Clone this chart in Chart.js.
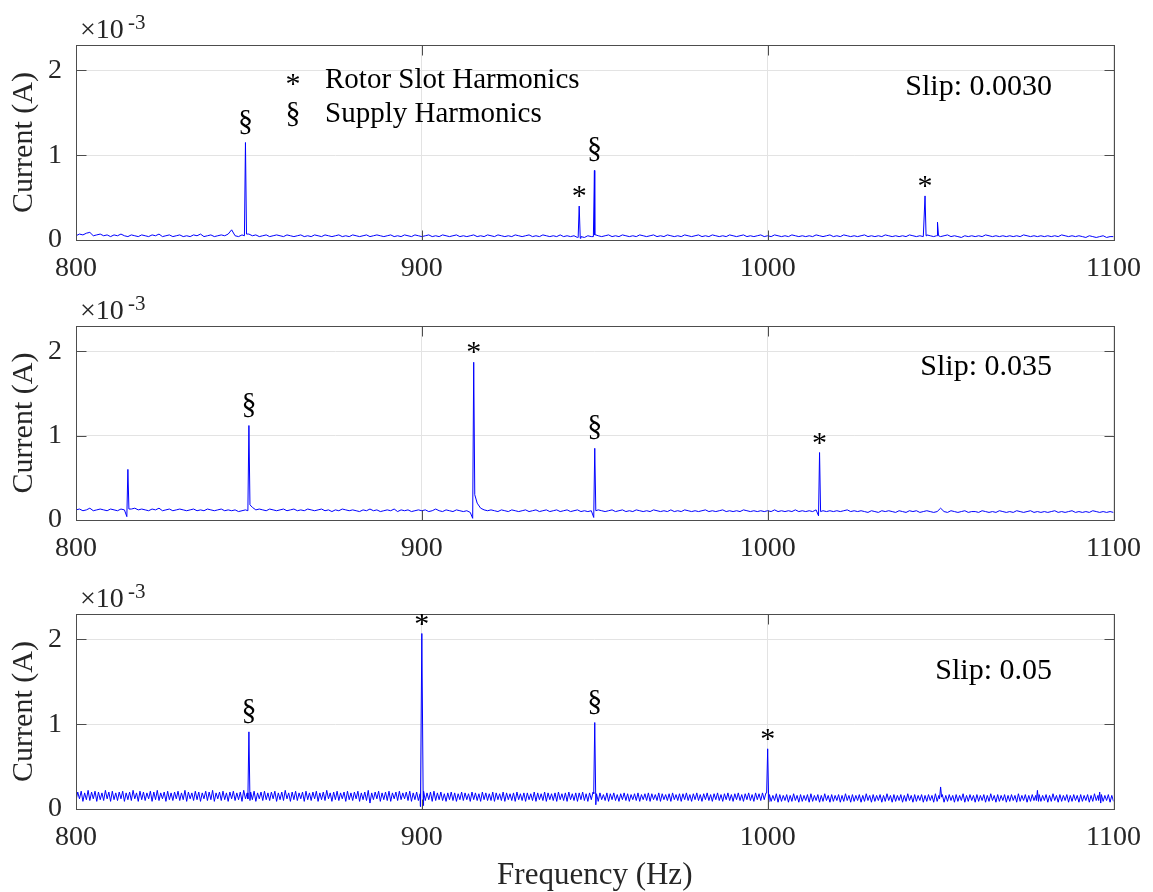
<!DOCTYPE html>
<html>
<head>
<meta charset="utf-8">
<script src="https://cdn.jsdelivr.net/npm/chart.js@4.4.0/dist/chart.umd.min.js"></script>
<style>
  html, body { margin: 0; padding: 0; background: #fff; }
  #wrap { position: relative; width: 1153px; height: 892px; }
  canvas { position: absolute; left: 0; }
</style>
</head>
<body>
<div id="wrap">
  <canvas id="p1" width="1153" height="290" style="top:0px"></canvas>
  <canvas id="p2" width="1153" height="290" style="top:290px"></canvas>
  <canvas id="p3" width="1153" height="312" style="top:580px"></canvas>
</div>
<script>
// --- data (all current values in units of 1e-5 A, axis is in 1e-3 A) ---
const FREQ_START = 800;   // Hz, first sample of each noise floor
const X_TICKS = [800, 900, 1000, 1100];
const Y_TICKS = [0, 1, 2];

// Slip 0.0030 (floor sampled every 1 Hz)
const floor1 = [
  5,7,6,8,9,5,6,7,5,6,  4,6,5,7,5,4,6,5,4,6,  5,4,6,5,7,4,5,6,4,5,  6,4,5,4,6,5,7,4,5,6,
  4,5,6,5,7,12,5,4,6,5, 7,5,6,4,5,6,4,5,6,5,  4,6,5,4,5,6,4,5,4,6,  5,4,6,5,4,5,6,4,5,4,
  6,5,4,5,6,4,5,6,5,4,  5,6,4,5,4,6,5,4,6,5,  4,5,6,4,5,4,6,5,4,5,  6,4,5,4,5,6,4,5,4,6,
  5,4,6,5,4,5,4,6,5,4,  5,6,4,5,4,6,5,4,5,4,  6,4,5,4,5,3,4,3,5,4,  6,5,4,5,6,4,5,4,6,5,
  4,5,4,6,5,4,5,6,4,5,  4,6,5,4,5,4,6,5,4,5,  6,4,5,4,6,5,4,5,4,6,  5,4,5,6,4,5,4,5,6,4,
  5,4,6,5,4,5,4,6,5,4,  5,4,5,4,6,5,4,5,6,4,  5,4,6,5,4,5,4,5,6,4,  5,4,5,4,6,5,4,5,4,5,
  4,6,5,4,5,4,6,5,4,5,  4,5,6,4,5,4,3,5,4,5,  4,5,4,6,5,4,5,4,5,4,  5,4,5,4,6,5,4,5,4,5,
  4,5,4,5,4,6,5,4,5,4,  5,4,3,5,4,3,4,5,3,4,  4
];
const peaks1 = [
  [848.7, 5], [849, 115], [849.3, 7],
  [945.2, 3], [945.5, 40], [945.8, 2],
  [949.6, 4], [949.9, 82], [950.3, 6],
  [1045.2, 4], [1045.5, 52], [1045.8, 5],
  [1048.8, 5], [1049.1, 21], [1049.4, 5]
];
const marks1 = [[849, 115, '§'], [945.5, 40, '*'], [949.9, 82, '§'], [1045.5, 52, '*']];

// Slip 0.035 (floor sampled every 1 Hz)
const floor2 = [
  12,13,11,12,14,11,12,13,12,11,  13,12,11,13,12,9,13,14,12,13,  12,11,13,12,14,11,12,13,11,12,
  13,12,11,12,13,11,12,11,13,12,  11,12,13,11,12,11,12,10,11,12,  14,15,12,13,12,11,13,12,11,12,
  13,11,12,13,11,12,11,13,12,11,  12,13,11,12,10,12,11,13,12,11,  12,11,10,12,11,13,11,12,10,11,
  12,11,13,10,12,11,12,10,11,12,  11,12,10,11,13,11,10,12,11,10,  12,11,10,11,9,3,20,14,12,11,
  12,11,10,12,11,10,12,11,10,11,  12,10,11,12,10,11,12,10,11,12,  10,11,12,10,11,12,10,11,10,11,
  4,12,11,10,11,12,10,11,12,10,   11,10,12,11,10,11,10,12,11,10,  11,10,12,10,11,10,12,11,10,11,
  10,11,12,10,11,10,11,12,10,11,  10,11,10,12,11,10,11,10,11,10,  11,10,12,10,11,10,11,10,12,10,
  11,10,11,10,12,6,11,10,11,10,   11,10,11,12,10,11,10,11,10,9,   11,10,9,11,10,11,10,9,11,10,
  9,11,10,11,9,10,11,10,9,10,     14,10,9,11,10,9,10,11,9,10,     10,9,11,10,9,10,9,11,10,9,
  10,9,11,10,9,10,11,9,10,9,      10,9,10,11,9,10,9,10,11,9,      10,9,10,9,11,10,9,10,9,10,
  9
];
const peaks2 = [
  [814.7, 4], [815, 60], [815.3, 13],
  [849.7, 11], [850, 112], [850.3, 18],
  [914.7, 2], [915, 187], [915.3, 30],
  [949.7, 3], [950, 85], [950.3, 11],
  [1014.7, 5], [1015, 80], [1015.3, 10]
];
const marks2 = [[850, 112, '§'], [915, 187, '*'], [950, 85, '§'], [1015, 80, '*']];

// Slip 0.05 (floor sampled every 0.5 Hz, one row = 5 Hz)
const floor3 = [
  10,20,12,21,9,19,11,22,10,20,  12,21,9,20,11,19,10,22,12,20,
  9,21,11,19,10,20,12,21,9,19,   11,20,10,22,12,19,9,21,11,20,
  10,19,12,21,9,20,11,22,10,19,  12,20,9,21,11,19,10,20,12,21,
  10,19,11,22,9,20,12,19,10,21,  11,20,9,19,12,21,10,20,11,22,
  9,19,12,20,10,21,11,19,9,20,   12,21,10,19,11,20,9,22,12,19,
  10,20,11,21,9,19,12,20,10,21,  11,19,10,20,12,21,9,19,11,20,
  10,22,12,19,9,20,11,21,10,19,  12,20,9,21,11,19,10,20,12,21,
  9,19,11,20,10,22,12,19,9,20,   11,21,10,19,12,20,9,21,11,19,
  10,20,12,21,9,19,11,20,10,22,  7,19,11,20,12,21,9,19,11,20,
  10,21,9,19,12,20,10,21,11,19,  12,20,10,21,9,19,11,20,10,18,
  12,21,10,19,11,20,9,21,10,19,  11,20,10,18,9,19,11,20,10,19,
  9,18,11,20,10,19,11,18,9,20,   11,19,10,18,9,20,11,19,10,18,
  10,20,9,19,11,18,10,20,9,19,   11,18,10,19,9,20,11,18,10,19,
  9,19,11,18,10,20,9,19,11,18,   10,20,9,19,11,18,10,19,9,20,
  11,18,10,19,9,20,11,18,10,19,  9,19,11,20,10,18,9,19,11,20,
  10,18,9,19,11,17,10,19,9,18,   11,19,10,17,9,18,11,19,10,18,
  9,17,11,18,10,19,9,17,11,18,   10,19,9,18,11,17,10,19,9,18,
  11,17,10,18,9,19,11,17,10,18,  9,18,11,19,10,17,9,18,11,19,
  10,17,9,18,11,19,10,17,9,18,   11,19,10,17,9,18,11,19,10,17,
  9,18,11,19,10,17,9,18,11,19,   10,17,9,19,11,18,10,19,11,19,
  8,17,9,16,10,18,8,17,9,16,     10,17,8,16,9,18,10,16,8,17,
  9,16,10,17,8,18,9,16,10,17,    8,16,9,18,10,16,8,17,9,16,
  10,17,8,16,9,18,10,16,8,17,    9,16,10,17,8,16,9,18,10,16,
  8,17,9,16,10,17,8,16,9,18,     10,16,8,17,9,16,10,17,8,16,
  9,18,10,16,8,17,9,16,10,17,    8,16,9,17,10,16,8,18,9,16,
  10,17,8,16,9,17,10,16,8,17,    9,16,10,18,8,16,9,17,10,16,
  8,17,9,16,10,17,8,16,9,18,     10,16,8,17,9,16,10,17,8,16,
  9,17,10,16,8,18,9,16,10,17,    8,16,9,17,10,16,8,17,9,16,
  10,17,8,16,9,18,10,16,8,17,    9,16,10,17,8,16,9,17,10,16,
  8,17,9,16,10,17,8,16,9,18,     10,16,8,17,9,16,10,17,8,16,
  9
];
const peaks3 = [
  [849.7, 12], [850, 91], [850.3, 10],
  [899.6, 3], [900, 207], [900.4, 4],
  [949.7, 18], [950, 102], [950.3, 5],
  [999.7, 19], [1000, 71], [1000.3, 8],
  [1049.7, 12], [1050, 26], [1050.3, 14],
  [1077.7, 10], [1078, 22], [1078.3, 9],
  [1095.7, 10], [1096, 20], [1096.3, 7]
];
const marks3 = [[850, 91, '§'], [900, 207, '*'], [950, 102, '§'], [1000, 71, '*']];

const legendItems = [['*', 'Rotor Slot Harmonics'], ['§', 'Supply Harmonics']];

const SERIF = '"Liberation Serif", "Times New Roman", serif';
const TEXT = '#262626';
Chart.defaults.font.family = SERIF;
Chart.defaults.color = TEXT;

function buildSeries(floor, step, peaks) {
  const peakX = new Set(peaks.map(p => p[0]));
  const pts = [];
  floor.forEach((v, i) => {
    const f = FREQ_START + i * step;
    if (!peakX.has(f)) pts.push({ x: f, y: v / 100 });
  });
  peaks.forEach(p => pts.push({ x: p[0], y: p[1] / 100 }));
  pts.sort((a, b) => a.x - b.x);
  return pts;
}

function line(ctx, x1, y1, x2, y2) {
  ctx.beginPath(); ctx.moveTo(x1, y1); ctx.lineTo(x2, y2); ctx.stroke();
}

// box, inward ticks and all the text annotations
const framePlugin = {
  id: 'frame',
  afterDatasetsDraw(chart, args, o) {
    const { ctx, chartArea: a, scales: { x, y } } = chart;
    ctx.save();
    ctx.strokeStyle = '#4d4d4d';
    ctx.lineWidth = 1;
    const L = Math.round(a.left) + 0.5, R = Math.round(a.right) + 0.5;
    const T = Math.round(a.top) + 0.5, B = Math.round(a.bottom) + 0.5;
    ctx.strokeRect(L, T, R - L, B - T);
    const tk = 10;
    X_TICKS.forEach(v => {
      const px = Math.round(x.getPixelForValue(v)) + 0.5;
      line(ctx, px, T, px, T + tk);
      line(ctx, px, B, px, B - tk);
    });
    Y_TICKS.forEach(v => {
      const py = Math.round(y.getPixelForValue(v)) + 0.5;
      line(ctx, L, py, L + tk, py);
      line(ctx, R, py, R - tk, py);
    });

    ctx.fillStyle = '#000';
    ctx.textAlign = 'center';
    ctx.textBaseline = 'alphabetic';
    ctx.font = '30px ' + SERIF;
    // harmonic symbols over the peaks
    o.marks.forEach(m => {
      const px = x.getPixelForValue(m[0]);
      const py = y.getPixelForValue(m[1] / 100);
      ctx.fillText(m[2], px, m[2] === '§' ? py - 13 : py - 1);
    });

    // slip label
    ctx.textAlign = 'right';
    ctx.fillText(o.slip, 1052, a.top + o.slipDy);

    // legend (first panel only)
    if (o.legend) {
      legendItems.forEach((it, i) => {
        const base = a.top + 43 + i * 34;
        ctx.textAlign = 'center';
        ctx.font = '30px ' + SERIF;
        ctx.fillText(it[0], a.left + 217, base + (it[0] === '*' ? 5 : 0));
        ctx.textAlign = 'left';
        ctx.font = '29px ' + SERIF;
        ctx.fillText(it[1], a.left + 249, base);
      });
    }

    // exponent above the axis
    ctx.fillStyle = TEXT;
    ctx.textAlign = 'left';
    ctx.font = '28px ' + SERIF;
    ctx.fillText('\u00d710', a.left + 4, a.top - 7);
    ctx.font = '21px ' + SERIF;
    ctx.fillText('-3', a.left + 52, a.top - 16);

    // y title
    ctx.save();
    ctx.translate(24, (a.top + a.bottom) / 2);
    ctx.rotate(-Math.PI / 2);
    ctx.textAlign = 'center';
    ctx.textBaseline = 'middle';
    ctx.font = '30px ' + SERIF;
    ctx.fillText('Current (A)', 0, 0);
    ctx.restore();

    // x title (bottom panel only)
    if (o.xTitle) {
      ctx.textAlign = 'center';
      ctx.font = '31px ' + SERIF;
      ctx.fillText('Frequency (Hz)', (a.left + a.right) / 2, a.bottom + 75);
    }
    ctx.restore();
  }
};

const panels = [
  { id: 'p1', floor: floor1, step: 1, peaks: peaks1, marks: marks1, slip: 'Slip: 0.0030', h: 290, top: 45, bottom: 240, slipDy: 50, legend: true, xTitle: false },
  { id: 'p2', floor: floor2, step: 1, peaks: peaks2, marks: marks2, slip: 'Slip: 0.035', h: 290, top: 36, bottom: 230, slipDy: 49, legend: false, xTitle: false },
  { id: 'p3', floor: floor3, step: 0.5, peaks: peaks3, marks: marks3, slip: 'Slip: 0.05', h: 312, top: 34, bottom: 229, slipDy: 65, legend: false, xTitle: true }
];

panels.forEach(p => {
  new Chart(document.getElementById(p.id), {
    type: 'line',
    data: {
      datasets: [{
        data: buildSeries(p.floor, p.step, p.peaks),
        borderColor: '#0000ff',
        borderWidth: 1,
        pointRadius: 0,
        tension: 0,
        fill: false
      }]
    },
    options: {
      responsive: false,
      animation: false,
      layout: { padding: { left: 0, right: 35, top: p.top, bottom: 0 } },
      plugins: {
        legend: { display: false },
        tooltip: { enabled: false },
        frame: p
      },
      scales: {
        x: {
          type: 'linear', min: 800, max: 1100,
          afterBuildTicks: s => { s.ticks = X_TICKS.map(v => ({ value: v })); },
          afterFit: s => { s.height = p.h - p.bottom; },
          ticks: { font: { size: 28 }, color: TEXT, padding: 12, maxRotation: 0, callback: v => String(v) },
          grid: { color: '#e3e3e3', drawTicks: false },
          border: { display: false }
        },
        y: {
          min: 0, max: 2.3,
          afterBuildTicks: s => { s.ticks = Y_TICKS.map(v => ({ value: v })); },
          afterFit: s => { s.width = 76; },
          ticks: { font: { size: 28 }, color: TEXT, padding: 14, callback: v => String(v) },
          grid: { color: '#e3e3e3', drawTicks: false },
          border: { display: false }
        }
      }
    },
    plugins: [framePlugin]
  });
});
</script>
</body>
</html>
